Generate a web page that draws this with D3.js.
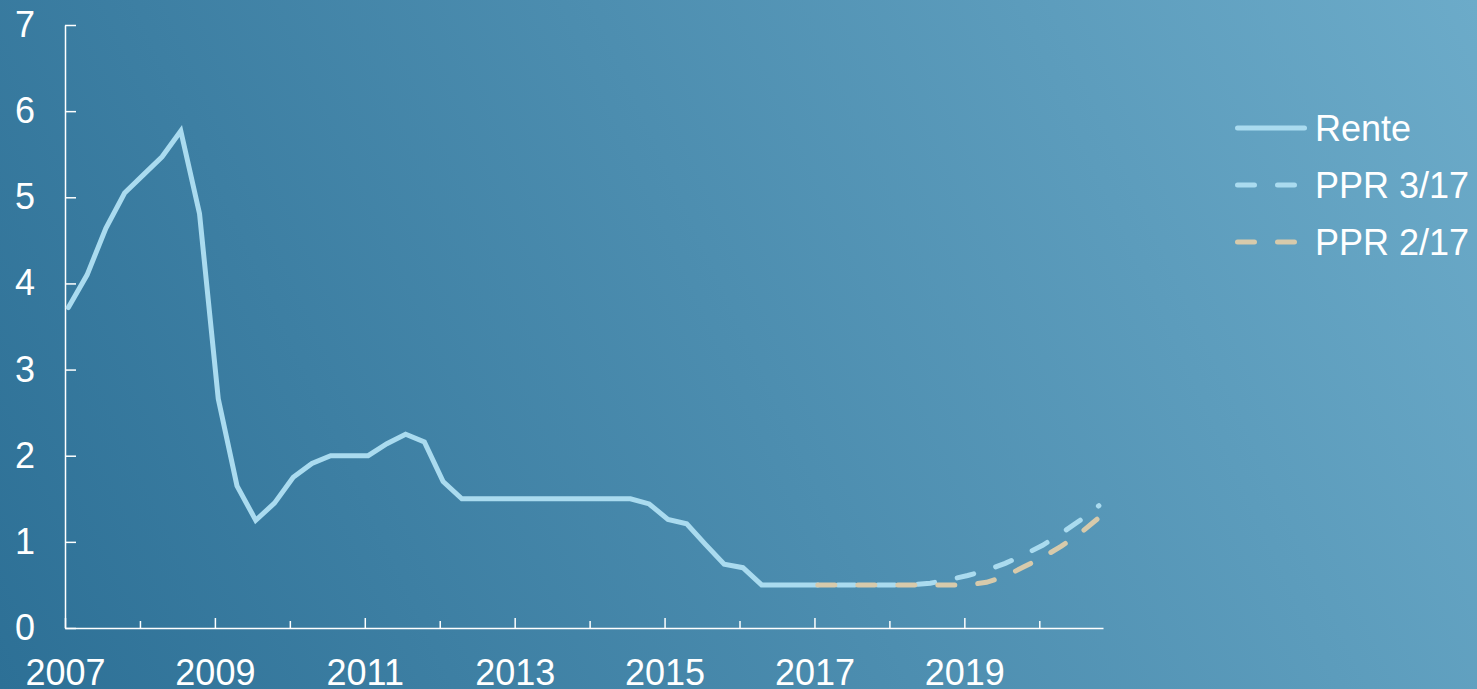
<!DOCTYPE html>
<html>
<head>
<meta charset="utf-8">
<script src="https://cdn.jsdelivr.net/npm/d3@7"></script>
<style>
  html, body { margin: 0; padding: 0; overflow: hidden; }
  svg { display: block; font-family: "Liberation Sans", Arial, sans-serif; }
</style>
</head>
<body>
<svg id="chart" width="1477" height="689"></svg>
<script>
// Quarterly averages, first value is 2007 Q1
var renteStart = 2007;
var rente = [3.72, 4.10, 4.64, 5.05, 5.26, 5.47, 5.77, 4.81, 2.66, 1.65,
    1.25, 1.45, 1.75, 1.91, 2.00, 2.00, 2.00, 2.14, 2.25, 2.16,
    1.70, 1.50, 1.50, 1.50, 1.50, 1.50, 1.50, 1.50, 1.50, 1.50,
    1.50, 1.44, 1.26, 1.21, 0.97, 0.74, 0.70, 0.50, 0.50, 0.50, 0.50];

// Forecasts, first value is 2017 Q1
var pprStart = 2017;
var ppr317 = [0.50, 0.50, 0.50, 0.50, 0.50, 0.50, 0.52, 0.56,
    0.61, 0.67, 0.75, 0.85, 0.96, 1.10, 1.25, 1.42];
var ppr217 = [0.50, 0.50, 0.50, 0.50, 0.50, 0.50, 0.50, 0.50,
    0.50, 0.53, 0.60, 0.71, 0.82, 0.95, 1.10, 1.28];

var yTicks = [0, 1, 2, 3, 4, 5, 6, 7];
var xYears = [2007, 2008, 2009, 2010, 2011, 2012, 2013, 2014, 2015, 2016, 2017, 2018, 2019, 2020];
var legendNames = ["Rente", "PPR 3/17", "PPR 2/17"];

var lightBlue = "#aadbef";
var tan = "#d7caab";

var svg = d3.select("#chart");

// background gradient, dark bottom-left to light top-right
var grad = svg.append("defs").append("linearGradient")
    .attr("id", "bg")
    .attr("gradientUnits", "userSpaceOnUse")
    .attr("x1", 0).attr("y1", 689)
    .attr("x2", 1477).attr("y2", 0);
grad.append("stop").attr("offset", 0).attr("stop-color", "#2d7096");
grad.append("stop").attr("offset", 1).attr("stop-color", "#6cabc9");
svg.append("rect")
    .attr("width", 1477).attr("height", 689)
    .attr("fill", "url(#bg)");

var x = d3.scaleLinear().domain([2007, 2020.85]).range([65, 1103]);
var y = d3.scaleLinear().domain([0, 7]).range([628, 25]);

// points sit a little after the start of each quarter
function toSeries(start, values) {
    return values.map(function(v, i) {
        return { t: start + i / 4 + 0.045, v: v };
    });
}

var line = d3.line()
    .x(function(d) { return x(d.t); })
    .y(function(d) { return y(d.v); });

// axes
var xAxis = svg.append("g")
    .attr("transform", "translate(0,628)")
    .call(d3.axisBottom(x)
        .tickValues(xYears)
        .tickSizeInner(-10)
        .tickSizeOuter(0)
        .tickFormat(function(d) { return d % 2 ? String(d) : ""; }));
xAxis.selectAll(".tick line")
    .attr("y2", function(d) { return d % 2 ? -10 : -7; });
xAxis.selectAll(".tick text")
    .attr("y", 57).attr("dy", null);

var yAxis = svg.append("g")
    .attr("transform", "translate(65,0)")
    .call(d3.axisLeft(y)
        .tickValues(yTicks)
        .tickSizeInner(-11)
        .tickSizeOuter(0)
        .tickPadding(30)
        .tickFormat(d3.format("d")));

svg.selectAll(".domain, .tick line")
    .attr("stroke", "#fff")
    .attr("stroke-width", 1.5);
svg.selectAll(".tick text")
    .attr("fill", "#fff")
    .attr("font-size", 36)
    .attr("font-family", "Liberation Sans, Arial, sans-serif");

// series
svg.append("path")
    .datum(toSeries(renteStart, rente))
    .attr("d", line)
    .attr("fill", "none")
    .attr("stroke", lightBlue)
    .attr("stroke-width", 5)
    .attr("stroke-linecap", "round");

svg.append("path")
    .datum(toSeries(pprStart, ppr317))
    .attr("d", line)
    .attr("fill", "none")
    .attr("stroke", lightBlue)
    .attr("stroke-width", 5)
    .attr("stroke-linecap", "round")
    .attr("stroke-dasharray", "17,23")
    .attr("stroke-dashoffset", 20);

svg.append("path")
    .datum(toSeries(pprStart, ppr217))
    .attr("d", line)
    .attr("fill", "none")
    .attr("stroke", tan)
    .attr("stroke-width", 5)
    .attr("stroke-linecap", "round")
    .attr("stroke-dasharray", "17,23");

// legend
var legendColors = [lightBlue, lightBlue, tan];
var legendDash = [null, "17,23", "17,23"];
var legend = svg.append("g").attr("transform", "translate(1237.5,128)");
legendNames.forEach(function(name, i) {
    var g = legend.append("g").attr("transform", "translate(0," + (i * 57) + ")");
    g.append("line")
        .attr("x1", 0).attr("x2", 67)
        .attr("stroke", legendColors[i])
        .attr("stroke-width", 5)
        .attr("stroke-linecap", "round")
        .attr("stroke-dasharray", legendDash[i]);
    g.append("text")
        .attr("x", 77.5)
        .attr("dy", "0.35em")
        .attr("fill", "#fff")
        .attr("font-size", 36)
        .text(name);
});
</script>
</body>
</html>
